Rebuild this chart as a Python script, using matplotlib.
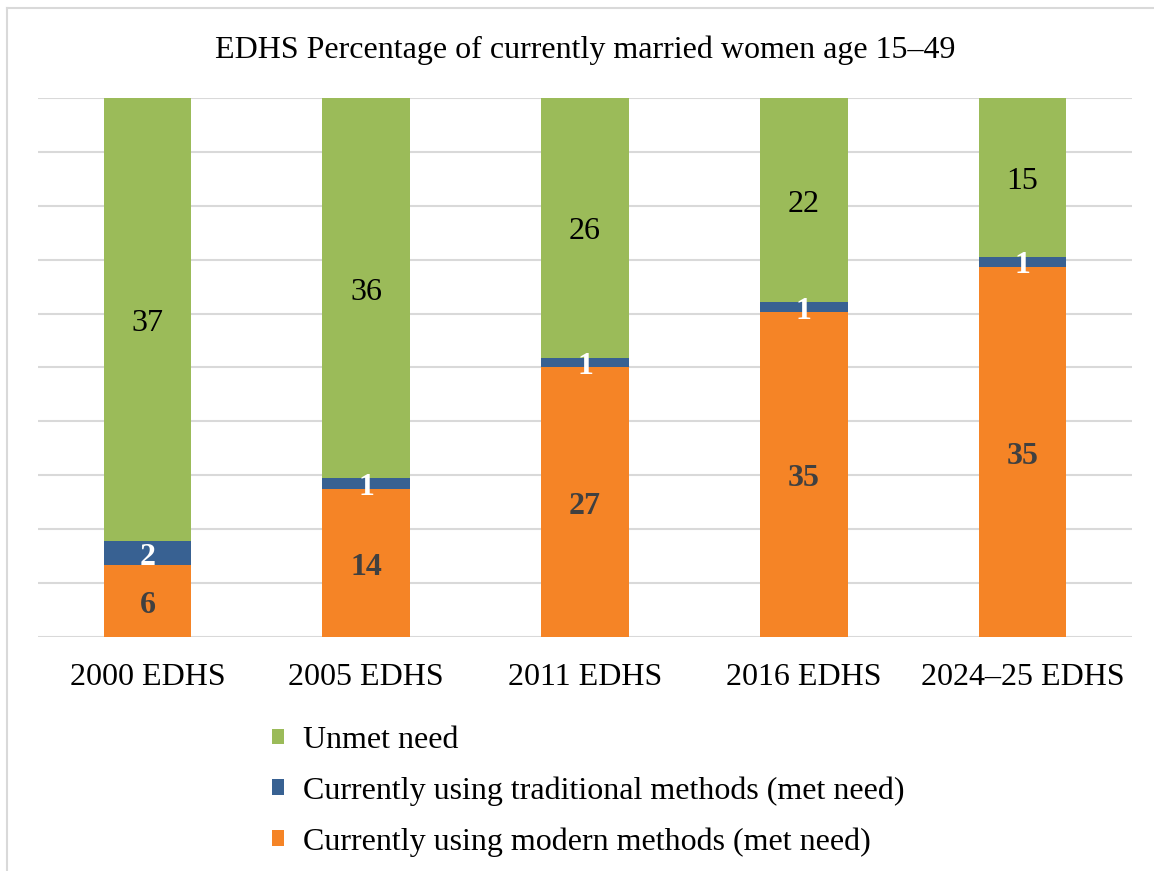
import numpy as np
import matplotlib
matplotlib.use("Agg")
import matplotlib.pyplot as plt
from matplotlib.patches import Patch
from matplotlib.lines import Line2D

plt.rcParams['font.family'] = ['Liberation Serif', 'DejaVu Serif']

surveys = ["2000 EDHS", "2005 EDHS", "2011 EDHS", "2016 EDHS", "2024\u201325 EDHS"]
modern = [6, 14, 27, 35, 35]
traditional = [2, 1, 1, 1, 1]
unmet = [37, 36, 26, 22, 15]

series_names = ["Currently using modern methods (met need)",
                "Currently using traditional methods (met need)",
                "Unmet need"]
colors = ["#F58426", "#386192", "#9BBB59"]
label_colors = ["#404040", "white", "black"]
label_weights = ["bold", "bold", "normal"]

title = "EDHS Percentage of currently married women age 15\u201349"
FS = 23

fig = plt.figure(figsize=(11.54, 8.71), dpi=100)

# light frame along the top and left edges
fig.add_artist(Line2D([7 / 1154, 7 / 1154], [0, 1 - 8 / 871], transform=fig.transFigure,
                      color="#D9D9D9", lw=1.5))
fig.add_artist(Line2D([7 / 1154, 1], [1 - 8 / 871, 1 - 8 / 871], transform=fig.transFigure,
                      color="#D9D9D9", lw=1.5))

ax = fig.add_axes([38 / 1154, 1 - 637 / 871, (1132 - 38) / 1154, (637 - 98) / 871])

# 100% stacked columns: each segment is its share of the survey total
data = np.array([modern, traditional, unmet], dtype=float)
totals = data.sum(axis=0)
shares = data / totals * 100

x = np.arange(len(surveys))
bottom = np.zeros(len(surveys))
handles = []
for i in range(3):
    bars = ax.bar(x, shares[i], 0.4, bottom=bottom, color=colors[i], zorder=3)
    for j, b in enumerate(bars):
        yc = bottom[j] + shares[i][j] / 2
        ax.annotate(f"{int(data[i][j])}", (x[j], yc), xytext=(0, -3),
                    textcoords="offset points", ha="center", va="center",
                    fontsize=FS, color=label_colors[i], fontweight=label_weights[i],
                    zorder=4)
    bottom += shares[i]
    handles.append(Patch(facecolor=colors[i], label=series_names[i]))

ax.set_xlim(-0.5, len(surveys) - 0.5)
ax.set_ylim(0, 100)
ax.set_yticks(np.arange(0, 101, 10))
ax.yaxis.grid(True, color="#D9D9D9", lw=1.5, zorder=0)
ax.tick_params(axis="y", left=False, labelleft=False)
ax.tick_params(axis="x", bottom=False, labelsize=FS, pad=15.5)
ax.set_xticks(x)
ax.set_xticklabels(surveys)
for s in ax.spines.values():
    s.set_visible(False)

fig.text(585 / 1154, 1 - 58 / 871, title, ha="center", va="baseline", fontsize=FS)

leg = fig.legend(handles=handles[::-1], loc="upper left",
                 bbox_to_anchor=(243 / 1154, 1 - 697 / 871), frameon=False,
                 fontsize=FS, handlelength=0.37, handleheight=0.37,
                 handletextpad=0.6, labelspacing=0.67)

fig.savefig("out.png", dpi=100)
